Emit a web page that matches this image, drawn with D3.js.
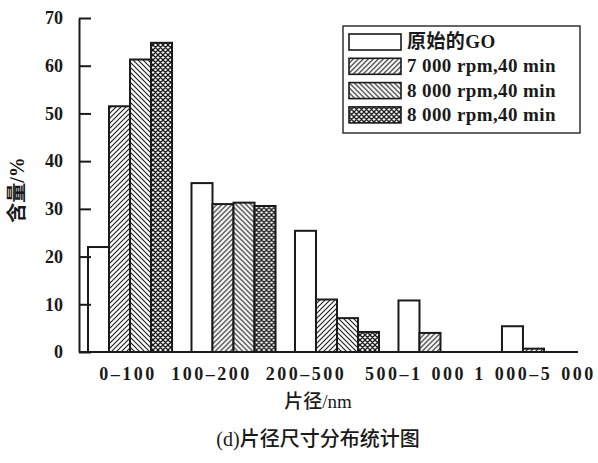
<!DOCTYPE html>
<html>
<head>
<meta charset="utf-8">
<script src="https://cdn.jsdelivr.net/npm/d3@7/dist/d3.min.js"></script>
<style>
  html, body { margin: 0; padding: 0; background: #fff; }
  svg { display: block; }
  .serif { font-family: "Liberation Serif", "Noto Sans CJK SC", serif; font-weight: bold; }
  .cjk { font-family: "Liberation Serif", "Noto Sans CJK SC", serif; }
</style>
</head>
<body>
<svg id="chart" width="598" height="463"></svg>
<script>
// Flake size ranges (nm) and the share (%) of each sample in each range
const categories = ["0\u2013100", "100\u2013200", "200\u2013500", "500\u20131 000", "1 000\u20135 000"];
const seriesNames = ["原始的GO", "7 000 rpm,40 min", "8 000 rpm,40 min", "8 000 rpm,40 min"];
const originalGO = [22.0, 35.4, 25.4, 10.8, 5.4];
const rpm7000 = [51.5, 31.0, 11.0, 4.0, 0.7];
const rpm8000a = [61.3, 31.3, 7.1, 0, 0];
const rpm8000b = [64.8, 30.6, 4.2, 0, 0];
const yTicks = [0, 10, 20, 30, 40, 50, 60, 70];

const seriesValues = [originalGO, rpm7000, rpm8000a, rpm8000b];
const fills = ["#fff", "url(#hatchUp)", "url(#hatchDown)", "url(#cross)"];
// horizontal nudges for the category labels under the axis
const labelShift = [-2, -22, -31, -25, -9];

const svg = d3.select("#chart");
const ink = "#1a1a1a";

// fill patterns
const defs = svg.append("defs");
function hatch(id, d, w) {
  const p = defs.append("pattern").attr("id", id)
    .attr("patternUnits", "userSpaceOnUse").attr("width", 5).attr("height", 5);
  p.append("rect").attr("width", 5).attr("height", 5).attr("fill", "#fff");
  p.append("path").attr("d", d).attr("stroke", ink).attr("stroke-width", w).attr("fill", "none");
}
hatch("hatchUp", "M-1,1 L1,-1 M0,5 L5,0 M4,6 L6,4", 1.1);
hatch("hatchDown", "M-1,4 L1,6 M0,0 L5,5 M4,-1 L6,1", 1.1);
hatch("cross", "M-1,1 L1,-1 M0,5 L5,0 M4,6 L6,4 M-1,4 L1,6 M0,0 L5,5 M4,-1 L6,1", 1.3);

const axisX = 79, axisRight = 578;
const y = d3.scaleLinear().domain([0, 70]).range([352, 18]);
const x0 = d3.scaleBand().domain(categories).range([88, 586]).paddingInner(0.188).paddingOuter(0);
const x1 = d3.scaleBand().domain(d3.range(seriesNames.length)).range([0, x0.bandwidth()]);

// bars
const groups = svg.append("g").selectAll("g").data(categories).join("g")
  .attr("transform", d => `translate(${x0(d)},0)`);
groups.selectAll("rect")
  .data((c, ci) => seriesValues.map((vals, si) => ({ si, v: vals[ci] })).filter(d => d.v > 0))
  .join("rect")
  .attr("x", d => x1(d.si))
  .attr("y", d => y(d.v))
  .attr("width", x1.bandwidth())
  .attr("height", d => y(0) - y(d.v))
  .attr("fill", d => fills[d.si])
  .attr("stroke", ink)
  .attr("stroke-width", 2);

// y axis with inward ticks
const yAxis = d3.axisLeft(y).tickValues(yTicks).tickSizeInner(-12).tickSizeOuter(0).tickPadding(16);
const gy = svg.append("g").attr("transform", `translate(${axisX},0)`).call(yAxis);
gy.selectAll("path, line").attr("stroke", ink).attr("stroke-width", 2);
gy.selectAll("text").attr("class", "serif").attr("font-size", 18).attr("fill", ink);

// baseline
svg.append("line").attr("x1", axisX).attr("x2", axisRight).attr("y1", y(0)).attr("y2", y(0))
  .attr("stroke", ink).attr("stroke-width", 2);

// category labels
svg.append("g").selectAll("text").data(categories).join("text")
  .attr("class", "serif")
  .attr("x", (d, i) => x0(d) + x0.bandwidth() / 2 + labelShift[i])
  .attr("y", 380)
  .attr("text-anchor", "middle")
  .attr("font-size", 18)
  .attr("letter-spacing", 2.5)
  .attr("word-spacing", 2)
  .attr("fill", ink)
  .text(d => d);

// axis titles and caption
svg.append("text").attr("class", "cjk")
  .attr("transform", `translate(24,190) rotate(-90)`)
  .attr("text-anchor", "middle").attr("font-size", 20).attr("font-weight", 600).attr("fill", ink)
  .text("含量/%");
svg.append("text").attr("class", "cjk")
  .attr("x", 318).attr("y", 408).attr("text-anchor", "middle")
  .attr("font-size", 19).attr("font-weight", 500).attr("fill", ink).text("片径/nm");
svg.append("text").attr("class", "cjk")
  .attr("x", 318).attr("y", 446).attr("text-anchor", "middle")
  .attr("font-size", 20).attr("font-weight", 500).attr("fill", ink).text("(d)片径尺寸分布统计图");

// legend
const lg = svg.append("g");
lg.append("rect").attr("x", 343).attr("y", 26).attr("width", 237).attr("height", 107)
  .attr("fill", "#fff").attr("stroke", "#333").attr("stroke-width", 1.5);
const items = lg.selectAll("g.item").data(seriesNames).join("g").attr("class", "item")
  .attr("transform", (d, i) => `translate(349,${34 + i * 24.3})`);
items.append("rect").attr("width", 52).attr("height", 16)
  .attr("fill", (d, i) => fills[i]).attr("stroke", ink).attr("stroke-width", 1.6);
items.append("text").attr("class", "serif")
  .attr("x", 58).attr("y", 14).attr("font-size", 19).attr("letter-spacing", 0.4)
  .attr("fill", ink)
  .text(d => d);
</script>
</body>
</html>
